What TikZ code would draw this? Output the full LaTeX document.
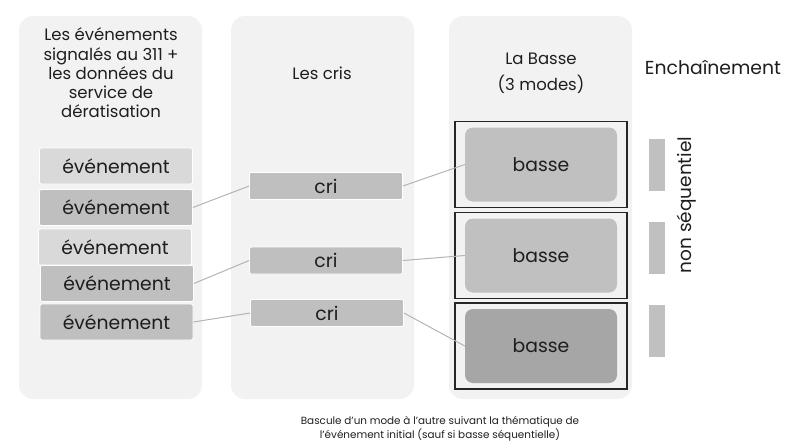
\documentclass[tikz,border=0pt]{standalone}
\usepackage{fontspec}
\setmainfont{Poppins}
\usetikzlibrary{positioning}
\definecolor{panelgray}{HTML}{F2F2F2}
\definecolor{evlight}{HTML}{D9D9D9}
\definecolor{evdark}{HTML}{BFBFBF}
\definecolor{bassemid}{HTML}{C0C0C0}
\definecolor{bassedark}{HTML}{A6A6A6}
\definecolor{linkgray}{HTML}{B4B4B4}
\definecolor{inkgray}{HTML}{1E1E1E}
\tikzstyle{panel}=[fill=panelgray,rounded corners=14pt]
\tikzstyle{evbox}=[rectangle,rounded corners=2pt,draw=white,line width=0.8pt,minimum width=153pt,minimum height=36pt,inner sep=0pt,text=inkgray,font=\fontsize{18.8}{20}\selectfont]
\tikzstyle{cribox}=[rectangle,rounded corners=2pt,fill=evdark,draw=white,line width=0.8pt,minimum width=153pt,minimum height=27pt,inner sep=0pt,text=inkgray,font=\fontsize{18.8}{20}\selectfont]
\tikzstyle{bassebox}=[rectangle,rounded corners=8pt,minimum width=152pt,minimum height=74pt,inner sep=0pt,text=inkgray,font=\fontsize{18.8}{20}\selectfont]
\tikzstyle{frame}=[rectangle,draw=black!85,line width=1.3pt,minimum width=172pt,minimum height=86pt,inner sep=0pt]
\tikzstyle{bar}=[rectangle,fill=bassemid,minimum width=16pt,minimum height=52pt,inner sep=0pt]
\tikzstyle{heading}=[align=center,text=inkgray,font=\fontsize{16.5}{19.2}\selectfont]
\tikzstyle{link} = [draw=linkgray,line width=1pt,-]

\begin{document}
\begin{tikzpicture}[x=1pt,y=-1pt]
  \useasboundingbox (0,0) rectangle (800,447);

  % the three columns
  \fill[panel] (19,16) rectangle (202,399);
  \fill[panel] (231,16) rectangle (414,399);
  \fill[panel] (449,16) rectangle (632,399);

  \node[heading] (evtitle) at (111,73) {Les événements\\signalés au 311 +\\les données du\\service de\\dératisation};
  \node[heading] (crititle) at (322,73) {Les cris};
  \node[heading,font=\fontsize{16.5}{26}\selectfont] (bassetitle) at (541,73) {La Basse\\(3 modes)};
  \node[text=inkgray,font=\fontsize{18.8}{24}\selectfont] (chaintitle) at (713,68) {Enchaînement};

  % events
  \foreach \pos / \name / \shade in {{(116,166)/ev1/evlight}, {(116,207.5)/ev2/evdark},
                                     {(115,247)/ev3/evlight}, {(117,283.5)/ev4/evdark},
                                     {(116.5,322)/ev5/evdark}}
    \node[evbox,fill=\shade] (\name) at \pos {événement};

  % cries
  \foreach \pos / \name in {{(326,186)/cri1}, {(326,260.5)/cri2}, {(327,313)/cri3}}
    \node[cribox] (\name) at \pos {cri};

  % bass modes
  \foreach \pos / \name / \shade in {{(541,164.5)/b1/bassemid}, {(541,255.5)/b2/bassemid},
                                     {(541,346)/b3/bassedark}}
  {
    \node[frame] (\name frame) at \pos {};
    \node[bassebox,fill=\shade] (\name) at \pos {basse};
  }

  % chaining bars
  \foreach \pos / \name in {{(657,165)/bar1}, {(657,248)/bar2}, {(657,331)/bar3}}
    \node[bar] (\name) at \pos {};
  \node[rotate=90,text=inkgray,font=\fontsize{18.5}{24}\selectfont] (nonseq) at (687,205) {non séquentiel};

  % Connect events, cries and bass modes
  \foreach \source / \dest in {ev2/cri1, ev4/cri2, ev5/cri3,
                               cri1/b1, cri2/b2, cri3/b3}
      \path[link] (\source.east) -- (\dest.west);

  \node[align=center,text=inkgray,font=\fontsize{10.4}{13.5}\selectfont] (note) at (440,429)
    {Bascule d’un mode à l’autre suivant la thématique de\\l’événement initial (sauf si basse séquentielle)};
\end{tikzpicture}
\end{document}
